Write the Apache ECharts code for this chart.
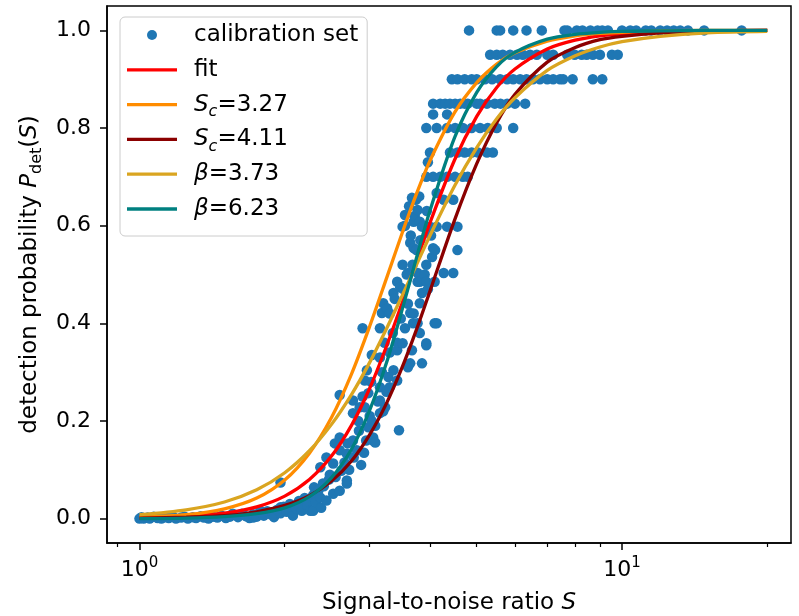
<!DOCTYPE html>
<html><head><meta charset="utf-8">
<script src="https://cdn.jsdelivr.net/npm/echarts@6/dist/echarts.min.js"></script>
<style>html,body{margin:0;padding:0;background:#fff}#c{width:799px;height:616px}</style>
</head><body><div id="c"></div>
<script>
// ---------- data ----------
const xMajorTicks = [1, 10];
const xMinorTicks = [0.9, 2, 3, 4, 5, 6, 7, 8, 9, 20];
const yTicks = [0, 0.2, 0.4, 0.6, 0.8, 1.0];

const curveS    = [1, 1.25, 1.5, 1.75, 2, 2.25, 2.5, 2.75, 3, 3.25, 3.5, 3.75, 4, 4.5, 5, 5.5, 6, 7, 8, 9, 10, 12, 15, 20];
const fitP      = [0.002,0.005,0.011,0.024,0.046,0.080,0.128,0.191,0.267,0.353,0.441,0.527,0.606,0.735,0.824,0.883,0.921,0.962,0.980,0.989,0.993,0.997,0.999,1.000];
const scLowP    = [0.003,0.008,0.020,0.042,0.079,0.134,0.207,0.296,0.394,0.492,0.584,0.665,0.733,0.832,0.893,0.931,0.954,0.978,0.989,0.994,0.996,0.999,1.000,1.000];
const scHighP   = [0.001,0.003,0.006,0.014,0.027,0.047,0.077,0.118,0.172,0.236,0.309,0.387,0.466,0.612,0.727,0.811,0.869,0.935,0.965,0.981,0.988,0.995,0.999,1.000];
const betaLowP  = [0.008,0.018,0.034,0.059,0.094,0.139,0.193,0.254,0.320,0.389,0.456,0.520,0.580,0.682,0.760,0.819,0.862,0.918,0.948,0.966,0.977,0.988,0.995,0.998];
const betaHighP = [0.000,0.001,0.004,0.010,0.022,0.045,0.084,0.142,0.222,0.319,0.427,0.534,0.631,0.781,0.873,0.926,0.955,0.982,0.992,0.996,0.998,0.999,1.000,1.000];

const calibrationSet = [
 [1.00,0.000],[1.01,0.003],[1.02,0.000],[1.04,0.002],[1.05,0.000],[1.07,0.004],[1.09,0.001],[1.11,0.000],[1.13,0.003],[1.15,0.001],
 [1.17,0.005],[1.19,0.000],[1.22,0.002],[1.24,0.004],[1.26,0.000],[1.29,0.003],[1.31,0.001],[1.34,0.005],[1.36,0.002],[1.39,0.000],
 [1.42,0.004],[1.45,0.002],[1.48,0.006],[1.51,0.001],[1.54,0.004],[1.56,0.010],[1.57,0.008],[1.60,0.003],[1.63,0.010],[1.66,0.005],
 [1.69,0.001],[1.72,0.002],[1.72,0.009],[1.75,0.004],[1.78,0.016],[1.78,0.012],[1.81,0.006],[1.84,0.015],[1.87,0.009],[1.89,0.010],
 [1.90,0.003],[1.93,0.018],[1.96,0.023],[1.96,0.011],[1.96,0.074],[1.99,0.024],[2.02,0.014],[2.05,0.030],[2.08,0.012],[2.08,0.006],
 [2.11,0.021],[2.14,0.036],[2.15,0.023],[2.17,0.016],[2.20,0.042],[2.22,0.037],[2.23,0.027],[2.26,0.016],[2.29,0.016],[2.29,0.048],
 [2.30,0.064],[2.32,0.034],[2.35,0.058],[2.37,0.043],[2.37,0.105],[2.38,0.022],[2.40,0.072],[2.41,0.066],[2.44,0.037],[2.44,0.125],
 [2.47,0.080],[2.48,0.090],[2.52,0.051],[2.52,0.113],[2.54,0.154],[2.55,0.085],[2.60,0.057],[2.60,0.140],[2.60,0.166],[2.60,0.253],
 [2.62,0.098],[2.66,0.115],[2.69,0.072],[2.69,0.078],[2.69,0.133],[2.70,0.154],[2.72,0.100],[2.77,0.160],[2.77,0.216],[2.77,0.242],
 [2.78,0.125],[2.82,0.140],[2.84,0.200],[2.85,0.180],[2.86,0.228],[2.88,0.110],[2.90,0.250],[2.90,0.390],[2.92,0.135],[2.93,0.228],
 [2.93,0.283],[2.95,0.160],[2.96,0.304],[2.98,0.187],[2.98,0.257],[3.00,0.210],[3.02,0.280],[3.03,0.200],[3.03,0.335],[3.05,0.160],
 [3.05,0.166],[3.08,0.156],[3.08,0.190],[3.12,0.240],[3.15,0.216],[3.15,0.242],[3.15,0.269],[3.15,0.330],[3.15,0.390],[3.18,0.300],
 [3.18,0.421],[3.20,0.220],[3.20,0.441],[3.22,0.360],[3.23,0.228],[3.25,0.260],[3.26,0.427],[3.26,0.431],[3.28,0.290],[3.30,0.269],
 [3.30,0.340],[3.30,0.420],[3.35,0.380],[3.36,0.304],[3.36,0.462],[3.38,0.450],[3.42,0.283],[3.42,0.345],[3.42,0.360],[3.42,0.485],
 [3.45,0.181],[3.47,0.474],[3.48,0.410],[3.51,0.359],[3.51,0.520],[3.51,0.598],[3.52,0.470],[3.55,0.390],[3.55,0.600],[3.55,0.622],
 [3.58,0.500],[3.60,0.310],[3.60,0.440],[3.60,0.503],[3.62,0.640],[3.64,0.318],[3.64,0.421],[3.64,0.565],[3.65,0.580],[3.67,0.345],
 [3.67,0.657],[3.68,0.520],[3.69,0.400],[3.70,0.420],[3.70,0.554],[3.70,0.608],[3.72,0.620],[3.74,0.653],[3.75,0.550],[3.77,0.400],
 [3.77,0.485],[3.77,0.503],[3.77,0.632],[3.80,0.660],[3.81,0.380],[3.81,0.441],[3.81,0.485],[3.81,0.608],[3.82,0.570],[3.85,0.318],
 [3.85,0.462],[3.85,0.598],[3.88,0.600],[3.90,0.500],[3.93,0.355],[3.93,0.359],[3.93,0.485],[3.93,0.520],[3.93,0.700],[3.93,0.800],
 [3.94,0.630],[3.96,0.470],[3.96,0.730],[4.00,0.598],[4.00,0.750],[4.02,0.580],[4.04,0.536],[4.06,0.554],[4.06,0.700],[4.06,0.828],
 [4.06,0.850],[4.09,0.400],[4.09,0.485],[4.10,0.550],[4.13,0.400],[4.13,0.598],[4.13,0.667],[4.13,0.800],[4.20,0.700],[4.20,0.850],
 [4.27,0.503],[4.27,0.653],[4.30,0.850],[4.34,0.598],[4.34,0.700],[4.34,0.800],[4.34,0.828],[4.40,0.750],[4.40,0.850],[4.44,0.900],
 [4.47,0.503],[4.47,0.653],[4.51,0.700],[4.51,0.800],[4.51,0.850],[4.56,0.550],[4.56,0.598],[4.56,0.750],[4.56,0.900],[4.62,0.850],
 [4.68,0.700],[4.68,0.800],[4.72,0.750],[4.72,0.850],[4.72,0.900],[4.79,0.700],[4.79,0.850],[4.82,1.000],[4.88,0.750],[4.88,0.800],
 [4.88,0.900],[5.00,0.850],[5.00,0.900],[5.03,0.750],[5.08,0.800],[5.08,0.850],[5.20,0.900],[5.25,0.750],[5.25,0.850],[5.27,0.800],
 [5.33,0.950],[5.38,0.900],[5.40,0.750],[5.45,0.850],[5.50,0.800],[5.50,0.950],[5.50,1.000],[5.59,0.900],[5.59,1.000],[5.60,0.850],
 [5.66,0.950],[5.78,0.850],[5.78,0.900],[5.86,0.950],[5.95,0.800],[5.95,0.900],[5.95,1.000],[6.00,0.850],[6.06,0.950],[6.15,0.900],
 [6.23,0.950],[6.30,0.850],[6.34,0.900],[6.34,1.000],[6.45,0.950],[6.54,0.900],[6.66,0.950],[6.76,0.900],[6.82,1.000],[7.00,0.900],
 [7.00,0.950],[7.20,0.900],[7.20,0.950],[7.44,0.900],[7.55,0.900],[7.60,1.000],[7.70,0.950],[7.70,1.000],[7.90,0.900],[7.98,0.950],
 [8.06,1.000],[8.25,0.950],[8.28,1.000],[8.45,0.950],[8.60,1.000],[8.70,0.900],[8.70,0.950],[8.90,1.000],[9.00,0.950],[9.10,0.900],
 [9.10,1.000],[9.35,1.000],[9.53,0.950],[9.80,0.950],[10.0,1.000],[10.4,1.000],[10.7,1.000],[11.2,1.000],[11.5,1.000],[12.0,1.000],
 [12.4,1.000],[12.8,1.000],[13.2,1.000],[13.7,1.000],[14.8,1.000],[17.7,1.000]
];

// ---------- chart ----------
const FONT = 'DejaVu Sans';
const LINE_ICON = 'path://M0,0H50V3.3H0Z';
function pairs(xs, ys) { return xs.map((x, i) => [x, ys[i]]); }

const legendText = {
  'calibration set': '{sp|}calibration set',
  'fit': '{sp|}fit',
  'Sc=3.27': '{sp|}{i|S}{sub|c}=3.27',
  'Sc=4.11': '{sp|}{i|S}{sub|c}=4.11',
  'beta=3.73': '{sp|}{i|β}=3.73',
  'beta=6.23': '{sp|}{i|β}=6.23'
};

const axisLineStyle = { color: '#000', width: 1.5 };
const chart = echarts.init(document.getElementById('c'));
chart.setOption({
  animation: false,
  backgroundColor: '#fff',
  grid: { left: 107, right: 8, top: 6, bottom: 73, outerBoundsMode: 'none', containLabel: false,
          show: true, borderColor: '#000', borderWidth: 1.5, backgroundColor: 'transparent' },
  legend: {
    orient: 'vertical', left: 120, top: 17,
    padding: [3, 9, 12, 7], itemGap: 4.8, itemWidth: 50, itemHeight: 10,
    backgroundColor: 'rgba(255,255,255,0.8)', borderColor: '#cccccc', borderWidth: 1, borderRadius: 5,
    selectedMode: false,
    data: [
      { name: 'calibration set', icon: 'circle' },
      { name: 'fit', icon: LINE_ICON },
      { name: 'Sc=3.27', icon: LINE_ICON },
      { name: 'Sc=4.11', icon: LINE_ICON },
      { name: 'beta=3.73', icon: LINE_ICON },
      { name: 'beta=6.23', icon: LINE_ICON }
    ],
    formatter: n => legendText[n],
    textStyle: {
      fontFamily: FONT, fontSize: 23, color: '#000', lineHeight: 30,
      rich: {
        sp: { width: 12 },
        i: { fontFamily: FONT, fontSize: 23, fontStyle: 'italic', lineHeight: 30 },
        sub: { fontFamily: FONT, fontSize: 16, fontStyle: 'italic', verticalAlign: 'bottom', lineHeight: 20 }
      }
    }
  },
  xAxis: [{
    type: 'log', logBase: 10, min: 0.8564, max: 22.4, position: 'bottom',
    axisLine: { show: true, onZero: false, lineStyle: axisLineStyle },
    axisTick: { show: true, length: 7, lineStyle: axisLineStyle, customValues: xMajorTicks },
    axisLabel: {
      customValues: xMajorTicks, margin: 13, color: '#000', fontFamily: FONT, fontSize: 22, lineHeight: 28,
      formatter: v => '10{sup|' + Math.round(Math.log10(v)) + '}',
      rich: { sup: { fontFamily: FONT, fontSize: 15, color: '#000', verticalAlign: 'top', lineHeight: 15 } }
    },
    splitLine: { show: false }, minorTick: { show: false },
    name: 'Signal-to-noise ratio {i|S}', nameLocation: 'middle', nameGap: 49,
    nameTextStyle: { fontFamily: FONT, fontSize: 23, color: '#000',
      rich: { i: { fontFamily: FONT, fontSize: 23, fontStyle: 'italic', color: '#000' } } }
  }, {
    type: 'log', logBase: 10, min: 0.8564, max: 22.4, position: 'bottom',
    axisLine: { show: false, onZero: false },
    axisTick: { show: true, length: 4, lineStyle: { color: '#000', width: 1.2 }, customValues: xMinorTicks },
    axisLabel: { show: false }, splitLine: { show: false }
  }],
  yAxis: {
    type: 'value', min: -0.05, max: 1.05,
    axisLine: { show: true, onZero: false, lineStyle: axisLineStyle },
    axisTick: { show: true, length: 7, lineStyle: axisLineStyle, customValues: yTicks },
    axisLabel: { customValues: yTicks, formatter: v => v.toFixed(1), margin: 16, color: '#000', fontFamily: FONT, fontSize: 22 },
    splitLine: { show: false },
    name: 'detection probability {i|P}{sub|det}({i|S})', nameLocation: 'middle', nameGap: 55,
    nameTextStyle: { fontFamily: FONT, fontSize: 23, color: '#000', lineHeight: 30,
      rich: {
        i: { fontFamily: FONT, fontSize: 23, fontStyle: 'italic', color: '#000', lineHeight: 30 },
        sub: { fontFamily: FONT, fontSize: 16, color: '#000', verticalAlign: 'bottom', lineHeight: 20 }
      } }
  },
  series: [
    { name: 'calibration set', type: 'scatter', data: calibrationSet, symbol: 'circle', symbolSize: 10.5,
      itemStyle: { color: '#1f77b4', opacity: 1 }, silent: true },
    { name: 'fit', type: 'line', data: pairs(curveS, fitP), smooth: 0.3, symbol: 'none',
      lineStyle: { color: '#ff0000', width: 3.3 }, itemStyle: { color: '#ff0000' }, silent: true },
    { name: 'Sc=3.27', type: 'line', data: pairs(curveS, scLowP), smooth: 0.3, symbol: 'none',
      lineStyle: { color: '#ff8c00', width: 3.3 }, itemStyle: { color: '#ff8c00' }, silent: true },
    { name: 'Sc=4.11', type: 'line', data: pairs(curveS, scHighP), smooth: 0.3, symbol: 'none',
      lineStyle: { color: '#8b0000', width: 3.3 }, itemStyle: { color: '#8b0000' }, silent: true },
    { name: 'beta=3.73', type: 'line', data: pairs(curveS, betaLowP), smooth: 0.3, symbol: 'none',
      lineStyle: { color: '#daa520', width: 3.3 }, itemStyle: { color: '#daa520' }, silent: true },
    { name: 'beta=6.23', type: 'line', data: pairs(curveS, betaHighP), smooth: 0.3, symbol: 'none',
      lineStyle: { color: '#008080', width: 3.3 }, itemStyle: { color: '#008080' }, silent: true }
  ]
});
</script></body></html>
